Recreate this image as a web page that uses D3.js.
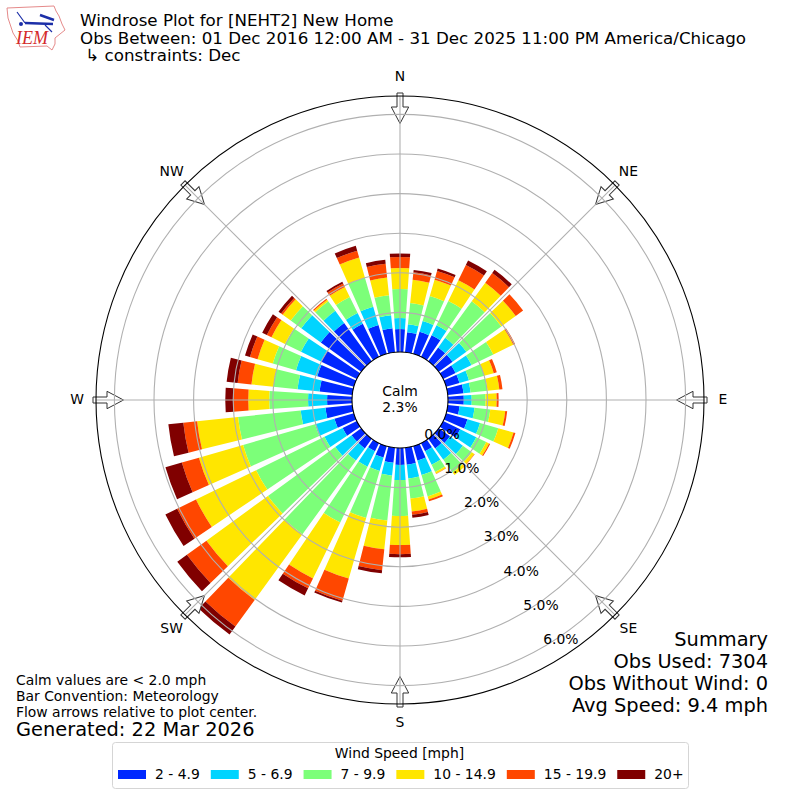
<!doctype html>
<html lang="en">
<head>
  <meta charset="UTF-8">
  <title>Windrose</title>
  <script src="https://cdn.jsdelivr.net/npm/d3@7"></script>
  <style>
    html, body { margin: 0; padding: 0; background: white; }
    svg { display: block; }
    text { font-family: "DejaVu Sans", sans-serif; fill: black; }
  </style>
</head>
<body>
<div id="container"></div>
<script type="text/javascript">
var directions = d3.range(0, 360, 10);
var speedBins = ['2 - 4.9', '5 - 6.9', '7 - 9.9', '10 - 14.9', '15 - 19.9', '20+'];
var binColors = ['#0028ff', '#00d4ff', '#7cff79', '#ffe600', '#ff4700', '#800000'];

// percent of obs per direction, N clockwise
var bin1 = [.58,.51,.58,.61,.43,.43,.35,.35,.40,.40,.30,.56,.48,.35,.30,.23,.38,.43,.43,.38,.30,.23,.30,.30,.40,.51,.68,.63,.83,.96,1.01,1.26,1.19,.93,.76,.61];
var bin2 = [.28,.20,.28,.28,.30,.43,.45,.25,.18,.20,.38,.33,.45,.40,.35,.38,.38,.35,.38,.33,.35,.43,.38,.51,.51,.51,.63,.48,.56,.56,.56,.61,.38,.30,.48,.33];
var bin3 = [.73,.54,.66,.68,1.14,1.09,.61,.40,.43,.35,.40,.48,.28,.28,.40,.20,.56,.51,.91,1.14,1.24,1.57,2.30,2.10,1.92,1.89,1.59,.98,.61,.61,.45,.33,.30,.45,.76,.51];
var bin4 = [.53,.59,.43,.58,.58,.45,.56,.25,.30,.28,.38,.40,.08,.08,.08,.05,.08,.33,.73,.73,1.59,1.57,2.05,1.92,1.69,1.16,1.04,.53,.56,.40,.38,.25,.05,.28,.53,.45];
var bin5 = [.28,.19,.23,.43,.30,.23,.05,.08,.08,.05,.05,.05,.03,.01,0,.01,.05,.08,.23,.53,.58,.28,.83,.61,.53,.45,.35,.38,.35,.20,.13,.05,.03,.10,.18,.35];
var bin6 = [.09,.06,.06,.13,.10,0,0,0,0,0,0,0,0,0,0,0,0,.08,.08,.08,.05,.20,.25,.30,.33,.43,.38,.20,.28,.13,.13,.08,0,.05,.13,.10];

var radialTicks = [0, 1, 2, 3, 4, 5, 6];
var compass = [
  ['N', 0], ['NE', 45], ['E', 90], ['SE', 135],
  ['S', 180], ['SW', 225], ['W', 270], ['NW', 315]
];
var titleLines = [
  'Windrose Plot for [NEHT2] New Home',
  'Obs Between: 01 Dec 2016 12:00 AM - 31 Dec 2025 11:00 PM America/Chicago',
  ' \u21b3 constraints: Dec'
];
var summaryLines = ['Summary', 'Obs Used: 7304', 'Obs Without Wind: 0', 'Avg Speed: 9.4 mph'];
var noteLines = ['Calm values are < 2.0 mph', 'Bar Convention: Meteorology', 'Flow arrows relative to plot center.'];

var svg = d3.select('#container').append('svg')
  .attr('width', 800)
  .attr('height', 800);

var cx = 400, cy = 400;
var rScale = d3.scaleLinear().domain([0, 6]).range([48, 285.6]);
var outerR = 304;
var angle = d3.scaleLinear().domain([0, 360]).range([0, 2 * Math.PI]);
var barWidth = 8;

var rows = directions.map(function(dir, i) {
  return { dir: dir, 0: bin1[i], 1: bin2[i], 2: bin3[i], 3: bin4[i], 4: bin5[i], 5: bin6[i] };
});
var stacked = d3.stack().keys(d3.range(speedBins.length))(rows);

var plot = svg.append('g').attr('transform', 'translate(' + cx + ',' + cy + ')');

var arc = d3.arc()
  .innerRadius(function(d) { return rScale(d[0]); })
  .outerRadius(function(d) { return rScale(d[1]); })
  .startAngle(function(d) { return angle(d.data.dir - barWidth / 2); })
  .endAngle(function(d) { return angle(d.data.dir + barWidth / 2); });

plot.selectAll('.band')
  .data(stacked)
  .enter().append('g')
  .attr('class', 'band')
  .attr('fill', function(s, i) { return binColors[i]; })
  .selectAll('path')
  .data(function(s) { return s; })
  .enter().append('path')
  .attr('d', arc);

// hollow flow arrows, pointing inward
var arrowShape = [[-3, -307], [3, -307], [3, -293], [8.7, -293], [0, -276.5], [-8.7, -293], [-3, -293]];
plot.selectAll('.arrow')
  .data(compass)
  .enter().append('polygon')
  .attr('class', 'arrow')
  .attr('points', arrowShape.join(' '))
  .attr('transform', function(d) { return 'rotate(' + d[1] + ')'; })
  .attr('fill', 'white')
  .attr('stroke', '#333')
  .attr('stroke-width', 1);

// grid sits on top of the bars
plot.selectAll('.ring')
  .data(radialTicks.slice(1))
  .enter().append('circle')
  .attr('class', 'ring')
  .attr('r', function(d) { return rScale(d); })
  .attr('fill', 'none')
  .attr('stroke', '#b0b0b0')
  .attr('stroke-width', 1.1);

plot.selectAll('.spoke')
  .data(compass)
  .enter().append('line')
  .attr('class', 'spoke')
  .attr('y1', -rScale(0))
  .attr('y2', -outerR)
  .attr('transform', function(d) { return 'rotate(' + d[1] + ')'; })
  .attr('stroke', '#b0b0b0')
  .attr('stroke-width', 1.1);

plot.append('circle').attr('r', outerR).attr('fill', 'none').attr('stroke', 'black').attr('stroke-width', 1.1);
plot.append('circle').attr('r', rScale(0)).attr('fill', 'none').attr('stroke', 'black').attr('stroke-width', 1.1);

plot.selectAll('.dirlabel')
  .data(compass)
  .enter().append('text')
  .attr('class', 'dirlabel')
  .attr('x', function(d) { return Math.sin(angle(d[1])) * 323; })
  .attr('y', function(d) { return -Math.cos(angle(d[1])) * 323 - 0.7; })
  .attr('text-anchor', 'middle')
  .attr('dominant-baseline', 'central')
  .style('font-size', '13.9px')
  .text(function(d) { return d[0]; });

plot.selectAll('.rlabel')
  .data(radialTicks)
  .enter().append('text')
  .attr('class', 'rlabel')
  .attr('x', function(d) { return rScale(d) * Math.sin(angle(150)) + 18; })
  .attr('y', function(d) { return -rScale(d) * Math.cos(angle(150)) - 8; })
  .attr('text-anchor', 'middle')
  .attr('dominant-baseline', 'central')
  .style('font-size', '13.9px')
  .text(function(d) { return d.toFixed(1) + '%'; });

plot.append('text').attr('y', -4).attr('text-anchor', 'middle').style('font-size', '13.9px').text('Calm');
plot.append('text').attr('y', 12).attr('text-anchor', 'middle').style('font-size', '13.9px').text('2.3%');

svg.selectAll('.title')
  .data(titleLines)
  .enter().append('text')
  .attr('class', 'title')
  .attr('x', 80)
  .attr('y', function(d, i) { return 26 + i * 17.5; })
  .attr('xml:space', 'preserve')
  .style('white-space', 'pre')
  .style('font-size', '16.7px')
  .text(function(d) { return d; });

svg.selectAll('.summary')
  .data(summaryLines)
  .enter().append('text')
  .attr('class', 'summary')
  .attr('x', 768)
  .attr('y', function(d, i) { return 646 + i * 22; })
  .attr('text-anchor', 'end')
  .style('font-size', '19.4px')
  .text(function(d) { return d; });

svg.selectAll('.note')
  .data(noteLines)
  .enter().append('text')
  .attr('class', 'note')
  .attr('x', 16)
  .attr('y', function(d, i) { return 685 + i * 16; })
  .style('font-size', '13.9px')
  .text(function(d) { return d; });

svg.append('text').attr('x', 16).attr('y', 736).style('font-size', '19.4px').text('Generated: 22 Mar 2026');

// legend
svg.append('rect')
  .attr('x', 112.5).attr('y', 742.5).attr('width', 576).attr('height', 46).attr('rx', 3)
  .attr('fill', 'white').attr('stroke', '#d5d5d5').attr('stroke-width', 1);
svg.append('text')
  .attr('x', 399.5).attr('y', 758)
  .attr('text-anchor', 'middle')
  .style('font-size', '13.9px')
  .text('Wind Speed [mph]');

var lx = 118;
speedBins.forEach(function(label, i) {
  svg.append('rect').attr('x', lx).attr('y', 770).attr('width', 28).attr('height', 9).attr('fill', binColors[i]);
  var t = svg.append('text').attr('x', lx + 37).attr('y', 779).style('font-size', '13.9px').text(label);
  lx += 37 + t.node().getComputedTextLength() + 11;
});

// IEM logo
var logo = svg.append('g');
logo.append('path')
  .attr('d', 'M7,8 L54,6 L56,11 L59,16 L62,24 L65,30 L60,34 L55,38 L55,44 L52,50 L47,46 L20,47 L18,41 L13,33 L10,24 L8,18 Z')
  .attr('fill', 'white').attr('stroke', '#e58a8a').attr('stroke-width', 1);
logo.append('path')
  .attr('d', 'M17,12 L25,23 M45,25 L52,32')
  .attr('fill', 'none').attr('stroke', '#1c2fa8').attr('stroke-width', 1.2);
logo.append('path')
  .attr('d', 'M25,23 L53,24 M40,15 L54,20')
  .attr('fill', 'none').attr('stroke', '#1c2fa8').attr('stroke-width', 2.4);
logo.append('circle').attr('cx', 21).attr('cy', 24).attr('r', 2).attr('fill', '#1c2fa8');
logo.append('text')
  .attr('x', 16).attr('y', 44)
  .style('font-family', '"Liberation Serif", serif')
  .style('font-style', 'italic')
  .style('font-size', '18px')
  .style('fill', '#d42a2a')
  .text('IEM');
</script>
</body>
</html>
